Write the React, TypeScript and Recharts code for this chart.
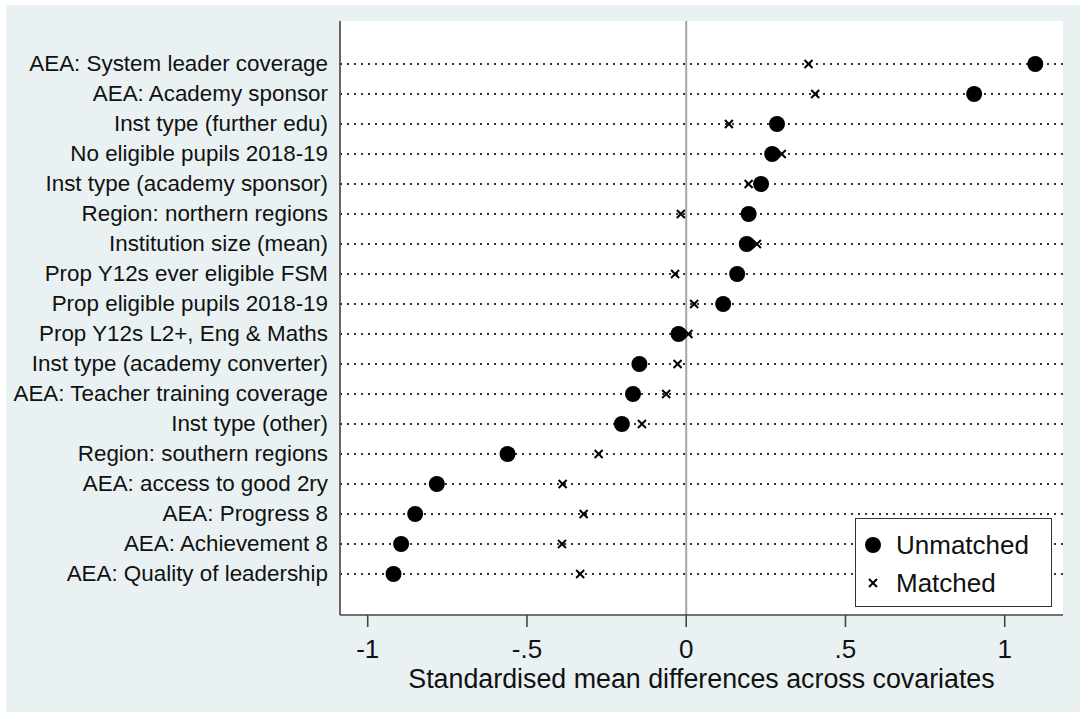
import React from 'react'
import {
  ScatterChart,
  Scatter,
  XAxis,
  YAxis,
  CartesianGrid,
  ReferenceLine,
  Legend,
} from 'recharts'

const covariates = [
  'AEA: System leader coverage',
  'AEA: Academy sponsor',
  'Inst type (further edu)',
  'No eligible pupils 2018-19',
  'Inst type (academy sponsor)',
  'Region: northern regions',
  'Institution size (mean)',
  'Prop Y12s ever eligible FSM',
  'Prop eligible pupils 2018-19',
  'Prop Y12s L2+, Eng & Maths',
  'Inst type (academy converter)',
  'AEA: Teacher training coverage',
  'Inst type (other)',
  'Region: southern regions',
  'AEA: access to good 2ry',
  'AEA: Progress 8',
  'AEA: Achievement 8',
  'AEA: Quality of leadership',
]

const unmatched = [
  1.096, 0.904, 0.285, 0.27, 0.235, 0.196, 0.19, 0.16, 0.116, -0.024,
  -0.147, -0.167, -0.202, -0.561, -0.783, -0.851, -0.895, -0.919,
]

const matched = [
  0.384, 0.405, 0.134, 0.3, 0.196, -0.017, 0.222, -0.035, 0.025, 0.007,
  -0.027, -0.063, -0.139, -0.275, -0.388, -0.322, -0.39, -0.333,
]

const xTicks = [-1, -0.5, 0, 0.5, 1]
const xTickLabels = ['-1', '-.5', '0', '.5', '1']

const unmatchedData = covariates.map((name, i) => ({ row: i, smd: unmatched[i], name }))
const matchedData = covariates.map((name, i) => ({ row: i, smd: matched[i], name }))
const rowTicks = covariates.map((_, i) => i)

const FONT = '"Liberation Sans", Arial, sans-serif'
const INK = '#111'
const AXIS = '#444'

const Dot = (props: any) => {
  const { cx, cy } = props
  if (cx == null || cy == null) return null
  return <circle cx={cx} cy={cy} r={8} fill="#000" />
}

const Cross = (props: any) => {
  const { cx, cy } = props
  if (cx == null || cy == null) return null
  const s = 4
  return (
    <path
      d={`M${cx - s},${cy - s}L${cx + s},${cy + s}M${cx - s},${cy + s}L${cx + s},${cy - s}`}
      stroke="#000"
      strokeWidth={2}
      fill="none"
    />
  )
}

const RowTick = (props: any) => {
  const { x, y, payload } = props
  return (
    <text
      x={x}
      y={y}
      textAnchor="end"
      dominantBaseline="central"
      fontSize={22.4}
      fontFamily={FONT}
      fill={INK}
    >
      {covariates[payload.value]}
    </text>
  )
}

const SmdTick = (props: any) => {
  const { x, y, payload } = props
  const idx = xTicks.indexOf(payload.value)
  return (
    <text
      x={x}
      y={y + 31}
      textAnchor="middle"
      fontSize={26}
      fontFamily={FONT}
      fill={INK}
    >
      {idx >= 0 ? xTickLabels[idx] : payload.value}
    </text>
  )
}

const LegendBox = () => (
  <div
    style={{
      width: 197,
      height: 89,
      border: '1.5px solid #333',
      background: '#fff',
      fontFamily: FONT,
      fontSize: 26,
      color: INK,
      boxSizing: 'border-box',
      padding: '7px 0 0 9px',
    }}
  >
    <div style={{ display: 'flex', alignItems: 'center', height: 38 }}>
      <svg width={28} height={20}>
        <circle cx={8} cy={10} r={8} fill="#000" />
      </svg>
      <span style={{ marginLeft: 3 }}>Unmatched</span>
    </div>
    <div style={{ display: 'flex', alignItems: 'center', height: 38 }}>
      <svg width={28} height={20}>
        <path d="M4,6L12,14M4,14L12,6" stroke="#000" strokeWidth={2} />
      </svg>
      <span style={{ marginLeft: 3 }}>Matched</span>
    </div>
  </div>
)

export default function App() {
  return (
    <div style={{ position: 'absolute', left: 0, top: 0, width: 1080, height: 715, background: '#fff' }}>
      <div
        style={{
          position: 'absolute',
          left: 6,
          top: 5,
          width: 1074,
          height: 707,
          background: '#e9f1f3',
        }}
      />
      <div style={{ position: 'absolute', left: 0, top: 0 }}>
        <ScatterChart width={1080} height={715} margin={{ top: 21, right: 17, bottom: 27, left: 0 }}>
          <CartesianGrid horizontal={false} vertical={false} fill="#fff" />
          <XAxis
            type="number"
            dataKey="smd"
            domain={[-1.087, 1.183]}
            ticks={xTicks}
            allowDataOverflow
            height={73}
            tickSize={12}
            tickMargin={0}
            tickLine={{ stroke: AXIS, strokeWidth: 1.6 }}
            axisLine={{ stroke: AXIS, strokeWidth: 1.6 }}
            tick={<SmdTick />}
            label={{
              value: 'Standardised mean differences across covariates',
              position: 'insideBottom',
              offset: 0,
              fontSize: 26.8,
              fontFamily: FONT,
              fill: INK,
            }}
          />
          <YAxis
            type="number"
            dataKey="row"
            domain={[-1.433, 18.367]}
            reversed
            ticks={rowTicks}
            interval={0}
            allowDataOverflow
            width={340}
            tickSize={0}
            tickMargin={12}
            tickLine={false}
            axisLine={{ stroke: AXIS, strokeWidth: 1.6 }}
            tick={<RowTick />}
          />
          {rowTicks.map((r) => (
            <ReferenceLine
              key={r}
              y={r}
              stroke="#333"
              strokeWidth={2}
              strokeDasharray="2 5"
            />
          ))}
          <ReferenceLine x={0} stroke="#a6a6a6" strokeWidth={2} />
          <Scatter name="Unmatched" data={unmatchedData} shape={<Dot />} isAnimationActive={false} />
          <Scatter name="Matched" data={matchedData} shape={<Cross />} isAnimationActive={false} />
          <Legend
            layout="horizontal"
            verticalAlign="middle"
            align="center"
            content={<LegendBox />}
            wrapperStyle={{ position: 'absolute', left: 855, top: 518, width: 197, height: 89 }}
          />
        </ScatterChart>
      </div>
    </div>
  )
}
